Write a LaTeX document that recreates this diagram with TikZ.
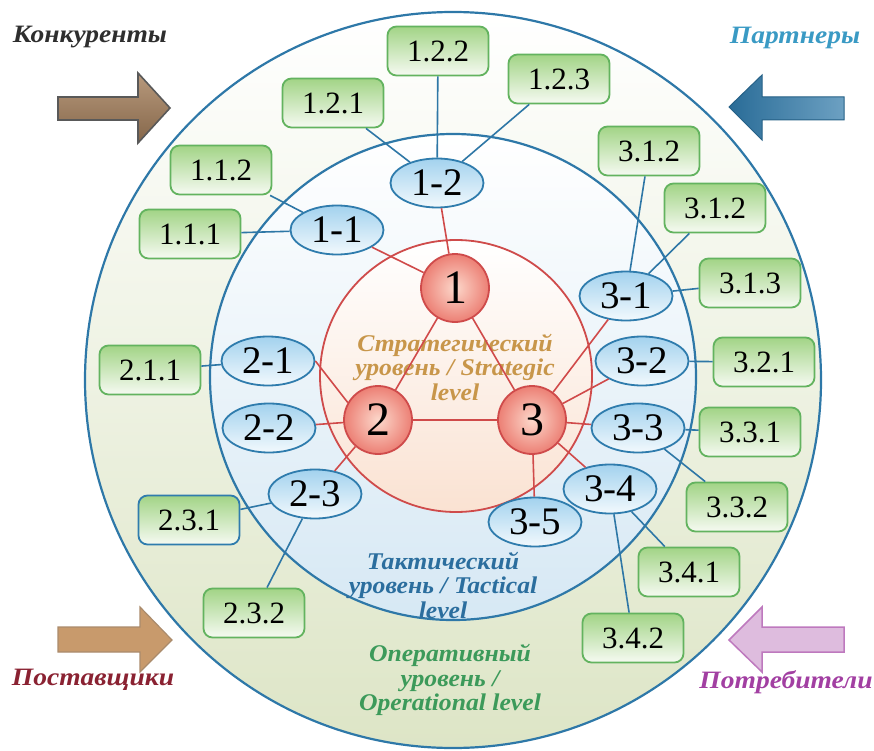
\documentclass[tikz,border=0pt]{standalone}
\usepackage{fontspec}
\setmainfont{Liberation Serif}
\newfontfamily\widefont{Liberation Serif}[FakeStretch=1.1]
\newfontfamily\lvlfont{Liberation Serif}[FakeStretch=1.07]
\usetikzlibrary{shapes.geometric}
\definecolor{ringline}{HTML}{2E78A8}
\definecolor{gborder}{HTML}{63B35F}
\definecolor{gtop}{HTML}{A2D486}
\definecolor{gbot}{HTML}{F6FAF2}
\definecolor{bborder}{HTML}{2F7CAD}
\definecolor{btop}{HTML}{A3D2EE}
\definecolor{bbot}{HTML}{F2F9FD}
\definecolor{rborder}{HTML}{CF4B4B}
\definecolor{rin}{HTML}{FCD8CB}
\definecolor{rout}{HTML}{EC7F74}
\definecolor{bline}{HTML}{2E77A6}
\definecolor{rline}{HTML}{D04A4A}
\definecolor{outerbot}{HTML}{DDE5C6}
\definecolor{midbot}{HTML}{D6E8F4}
\definecolor{innbot}{HTML}{FAE2D2}
\definecolor{strat}{HTML}{C8964A}
\definecolor{tact}{HTML}{2B6E9E}
\definecolor{oper}{HTML}{3C9A5A}
\definecolor{konk}{HTML}{2E2E2E}
\definecolor{partn}{HTML}{3A9AC4}
\definecolor{postav}{HTML}{8A2232}
\definecolor{potreb}{HTML}{A23FA2}
\definecolor{konkarrow}{HTML}{A6805C}
\definecolor{postarrow}{HTML}{C89A6C}
\tikzset{
  gbox/.style={rectangle, rounded corners=9pt, draw=gborder, line width=1.8pt,
    top color=gtop, bottom color=gbot, minimum width=101pt, minimum height=49pt,
    inner sep=0pt, font=\fontsize{31}{32}\selectfont},
  bellip/.style={ellipse, draw=bborder, line width=1.8pt, top color=btop,
    bottom color=bbot, minimum width=93pt, minimum height=49pt, inner sep=0pt,
    font=\fontsize{39}{39}\selectfont},
  rcirc/.style={circle, draw=rborder, line width=1.8pt, inner color=rin,
    outer color=rout, minimum size=68pt, inner sep=0pt,
    font=\fontsize{48}{48}\selectfont},
  bl/.style={draw=bline, line width=1.6pt},
  rl/.style={draw=rline, line width=1.6pt},
  lvl/.style={align=center, font=\lvlfont\bfseries\itshape\fontsize{24}{24.5}\selectfont, inner sep=0pt},
  side/.style={font=\widefont\bfseries\itshape\fontsize{25}{26}\selectfont, inner sep=0pt},
  ring/.style={draw=ringline, line width=2.2pt}
}
\begin{document}
\begin{tikzpicture}[x=1pt,y=-1pt]
\useasboundingbox (0,0) rectangle (874,751);
% rings
\shade[top color=white, bottom color=outerbot] (453,380) circle [radius=368pt];
\shade[top color=white, bottom color=midbot] (453,377) circle [radius=243pt];
\shade[top color=white, bottom color=innbot] (456,376) circle [radius=136pt];
\draw[ring] (453,380) circle [radius=368pt];
\draw[ring] (453,377) circle [radius=243pt];
\draw[draw=rborder, line width=1.8pt] (456,376) circle [radius=136pt];

% side arrows
\draw[line width=1.6pt, draw=black!65, top color=konkarrow!80!white, bottom color=konkarrow!80!black]
  (58,97) -- (138,97) -- (138,73) -- (170,108) -- (138,143) -- (138,120) -- (58,120) -- cycle;
\draw[line width=1pt, draw=ringline!80!black, left color=ringline!90!black, right color=ringline!70!white]
  (844,97) -- (762,97) -- (762,75) -- (729,107) -- (762,140) -- (762,120) -- (844,120) -- cycle;
\draw[line width=1.2pt, draw=brown!70!black!70, fill=postarrow]
  (58,627) -- (140,627) -- (140,607) -- (172,640) -- (140,672) -- (140,652) -- (58,652) -- cycle;
\draw[line width=1.5pt, draw=potreb!70, fill=potreb!35!white]
  (844,627) -- (762,627) -- (762,607) -- (729,640) -- (762,672) -- (762,652) -- (844,652) -- cycle;

% side labels
\node[side, text=konk] (lkonk) at (90,37) {Конкуренты};
\node[side, text=partn] (lpartn) at (795,38) {Партнеры};
\node[side, text=postav] (lpostav) at (93,680) {Поставщики};
\node[side, text=potreb] (lpotreb) at (786,682) {Потребители};

% level labels
\node[lvl, text=strat] (tstrat) at (455,367) {Стратегический\\уровень / Strategic\\level};
\node[lvl, text=tact] (ttact) at (443,585) {Тактический\\уровень / Tactical\\level};
\node[lvl, text=oper] (toper) at (450,680) {Оперативный\\уровень /\\Operational level};

% red circles
\node[rcirc] (c1) at (455,288) {1};
\node[rcirc] (c2) at (378,420) {2};
\node[rcirc] (c3) at (532,420) {3};

% ellipses
\node[bellip] (e11) at (337,230) {1-1};
\node[bellip] (e12) at (437,183) {1-2};
\node[bellip] (e21) at (268,361) {2-1};
\node[bellip] (e22) at (269,428) {2-2};
\node[bellip] (e23) at (315,494) {2-3};
\node[bellip] (e31) at (626,296) {3-1};
\node[bellip] (e32) at (642,361) {3-2};
\node[bellip] (e33) at (638,428) {3-3};
\node[bellip] (e34) at (610,489) {3-4};
\node[bellip] (e35) at (535,522) {3-5};

% green boxes
\node[gbox] (b111) at (190,234) {1.1.1};
\node[gbox] (b112) at (221,170) {1.1.2};
\node[gbox] (b121) at (333,103) {1.2.1};
\node[gbox] (b122) at (438,51) {1.2.2};
\node[gbox] (b123) at (559,79) {1.2.3};
\node[gbox] (b312a) at (649,151) {3.1.2};
\node[gbox] (b312b) at (715,208) {3.1.2};
\node[gbox] (b313) at (750,283) {3.1.3};
\node[gbox] (b321) at (764,362) {3.2.1};
\node[gbox] (b331) at (750,432) {3.3.1};
\node[gbox] (b332) at (737,507) {3.3.2};
\node[gbox] (b341) at (689,572) {3.4.1};
\node[gbox] (b342) at (633,638) {3.4.2};
\node[gbox] (b211) at (150,370) {2.1.1};
\node[gbox, draw=bborder] (b231) at (189,520) {2.3.1};
\node[gbox] (b232) at (254,613) {2.3.2};

% blue connectors
\draw[bl] (b111) -- (e11);
\draw[bl] (b112) -- (e11);
\draw[bl] (b121) -- (e12);
\draw[bl] (b122) -- (e12);
\draw[bl] (b123) -- (e12);
\draw[bl] (b312a) -- (e31);
\draw[bl] (b312b) -- (e31);
\draw[bl] (b313) -- (e31);
\draw[bl] (b321) -- (e32);
\draw[bl] (b331) -- (e33);
\draw[bl] (b332) -- (e33);
\draw[bl] (b341) -- (e34);
\draw[bl] (b342) -- (e34);
\draw[bl] (b211) -- (e21);
\draw[bl] (b231) -- (e23);
\draw[bl] (b232) -- (e23);

% red connectors
\draw[rl] (e12.-80) -- (c1.100);
\draw[rl] (e11) -- (c1);
\draw[rl] (c1) -- (c2);
\draw[rl] (c1) -- (c3);
\draw[rl] (c2) -- (c3);
\draw[rl] (e21.east) -- (c2.150);
\draw[rl] (e22) -- (c2);
\draw[rl] (e23) -- (c2);
\draw[rl] (e31) -- (c3);
\draw[rl] (e32) -- (c3);
\draw[rl] (e33) -- (c3);
\draw[rl] (e34) -- (c3);
\draw[rl] (e35) -- (c3);
\end{tikzpicture}
\end{document}
